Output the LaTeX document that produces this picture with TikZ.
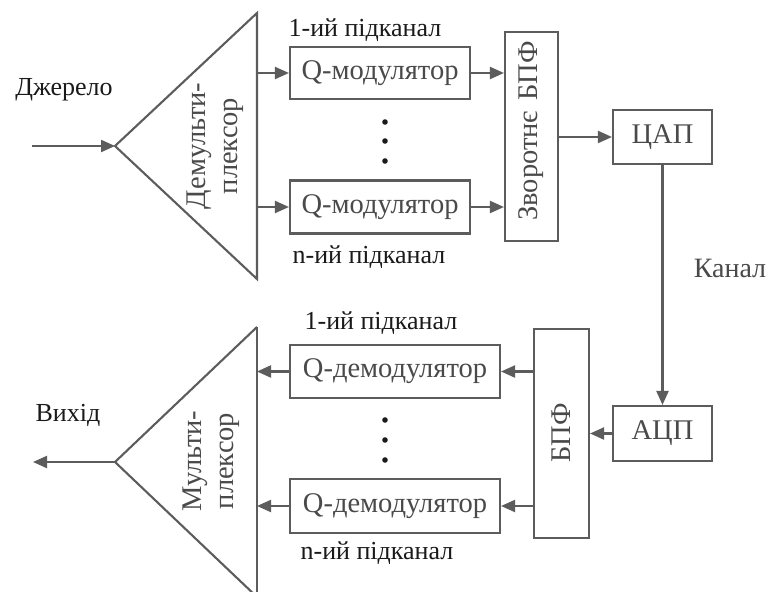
\documentclass[tikz,border=0pt]{standalone}
\usepackage{fontspec}
\setmainfont{Liberation Serif}
\usetikzlibrary{arrows.meta}
\definecolor{linegray}{HTML}{5C5C5C}
\definecolor{boxtext}{HTML}{4A4A4A}
\definecolor{labeltext}{HTML}{1A1A1A}
\begin{document}
\begin{tikzpicture}[x=1pt,y=-1pt,
  line width=2.1pt,
  block/.style={draw=linegray, fill=white, inner sep=0pt, text=boxtext,
    font=\fontsize{28.5}{30}\selectfont},
  lbl/.style={inner sep=0pt, text=labeltext, font=\fontsize{26}{28}\selectfont},
  vtext/.style={inner sep=0pt, text=boxtext, rotate=90, align=center,
    font=\fontsize{28.5}{32}\selectfont},
  arr/.style={draw=linegray, -{Triangle[length=14pt,width=12pt]}},
  wire/.style={draw=linegray}]
\useasboundingbox (0,0) rectangle (769,592);
\fill[white] (0,0) rectangle (769,592);

% demultiplexer triangle
\coordinate (dmA) at (115,146);
\coordinate (dmT) at (257,13);
\coordinate (dmB) at (257,279);
\draw[wire, line join=miter] (dmT) -- (dmA) -- (dmB) -- cycle;
\node[vtext] (dmtxt) at (215,146) {Демульти-\\плексор};

% multiplexer triangle
\coordinate (mxA) at (115,462);
\coordinate (mxT) at (257,327);
\coordinate (mxB) at (257,597);
\draw[wire, line join=miter] (mxT) -- (mxA) -- (mxB);
\draw[wire] (mxT) -- (mxB);
\node[vtext] (mxtxt) at (211,461) {Мульти-\\плексор};

% transmitter blocks
\node[block, minimum width=180pt, minimum height=52pt] (qm1) at (380,73) {Q-модулятор};
\node[block, minimum width=180pt, minimum height=53pt] (qm2) at (380,207) {Q-модулятор};
\node[block, minimum width=53pt, minimum height=209pt] (ifft) at (531.5,136.5) {};
\node[vtext] (iffttxt) at (531,131) {Зворотнє\hspace{10pt}БПФ};
\node[block, minimum width=99pt, minimum height=54pt] (dac) at (662.5,137) {ЦАП};

% receiver blocks
\node[block, minimum width=99pt, minimum height=55pt] (adc) at (662.5,433.5) {АЦП};
\node[block, minimum width=55pt, minimum height=209pt] (fft) at (561.5,433.5) {};
\node[vtext] (ffttxt) at (561,433) {БПФ};
\node[block, minimum width=210pt, minimum height=53pt] (qd1) at (395,371.5) {Q-демодулятор};
\node[block, minimum width=210pt, minimum height=54pt] (qd2) at (395,506) {Q-демодулятор};

% labels
\node[lbl] (src) at (64,90) {Джерело};
\node[lbl] (out) at (68,415) {Вихід};
\node[lbl] (sub1t) at (365,30) {1-ий підканал};
\node[lbl] (subnt) at (369,257) {n-ий підканал};
\node[lbl] (sub1r) at (381,323) {1-ий підканал};
\node[lbl] (subnr) at (377,553) {n-ий підканал};
\node[lbl, text=boxtext, font=\fontsize{28}{30}\selectfont] (chan) at (730,268) {Канал};

% free line ends
\coordinate (inStart) at (32,146);
\coordinate (outEnd) at (33,462);

% connectors, transmit side
\draw[arr] (inStart) -- (dmA);
\draw[arr] (qm1.west -| dmT) -- (qm1.west);
\draw[arr] (qm2.west -| dmT) -- (qm2.west);
\draw[arr] (qm1.east) -- (qm1.east -| ifft.west);
\draw[arr] (qm2.east) -- (qm2.east -| ifft.west);
\draw[arr] (ifft.east |- dac.west) -- (dac.west);

% channel
\draw[arr] (dac.south) -- (adc.north);

% connectors, receive side
\draw[arr] (adc.west) -- (adc.west -| fft.east);
\draw[arr] (qd1.east -| fft.west) -- (qd1.east);
\draw[arr] (qd2.east -| fft.west) -- (qd2.east);
\draw[arr] (qd1.west) -- (qd1.west -| mxT);
\draw[arr] (qd2.west) -- (qd2.west -| mxT);
\draw[arr] (mxA) -- (outEnd);

% ellipsis dots between the subchannels
\foreach \y in {122,141,161,420,440,460}
  \fill[labeltext] (385,\y) circle (2.8pt);
\end{tikzpicture}
\end{document}
